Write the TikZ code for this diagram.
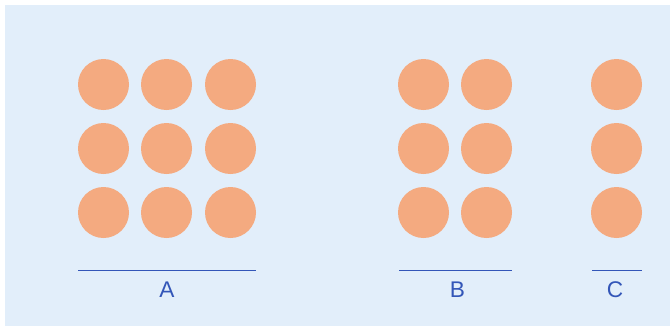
\documentclass[tikz,border=0pt]{standalone}
\usepackage{fontspec}
\setmainfont{Liberation Sans}
\definecolor{panelbg}{HTML}{E2EEFA}
\definecolor{dotfill}{HTML}{F4AA80}
\definecolor{rulecol}{HTML}{3356B8}
\begin{document}
\begin{tikzpicture}[x=0.75pt,y=-0.75pt,
  dot/.style={circle,fill=dotfill,minimum size=38.25pt,inner sep=0pt},
  rulebar/.style={draw=rulecol,line width=0.75pt},
  grouplabel/.style={text=rulecol,font=\fontsize{17}{20}\selectfont,anchor=center}]
\useasboundingbox (0,0) rectangle (670,326);
% Panel background.
\fill[panelbg] (5,5) rectangle (670,326);

% Group A: three by three.
\foreach \c/\x in {1/103.5,2/166.5,3/230.5}
  \foreach \r/\y in {1/84.5,2/148.5,3/212.5}
    \node[dot] (a\c\r) at (\x,\y) {};

% Group B: two by three.
\foreach \c/\x in {1/423.5,2/486.5}
  \foreach \r/\y in {1/84.5,2/148.5,3/212.5}
    \node[dot] (b\c\r) at (\x,\y) {};

% Group C: one column.
\foreach \r/\y in {1/84.5,2/148.5,3/212.5}
  \node[dot] (c1\r) at (616.5,\y) {};

% Underlines and labels.
\coordinate (aL) at (78,270.5);  \coordinate (aR) at (256,270.5);
\coordinate (bL) at (399,270.5); \coordinate (bR) at (512,270.5);
\coordinate (cL) at (592,270.5); \coordinate (cR) at (642,270.5);
\draw[rulebar] (aL) -- (aR);
\draw[rulebar] (bL) -- (bR);
\draw[rulebar] (cL) -- (cR);
\node[grouplabel] (labA) at (167,289.5) {A};
\node[grouplabel] (labB) at (457.5,289.5) {B};
\node[grouplabel] (labC) at (615,289.5) {C};
\end{tikzpicture}
\end{document}
